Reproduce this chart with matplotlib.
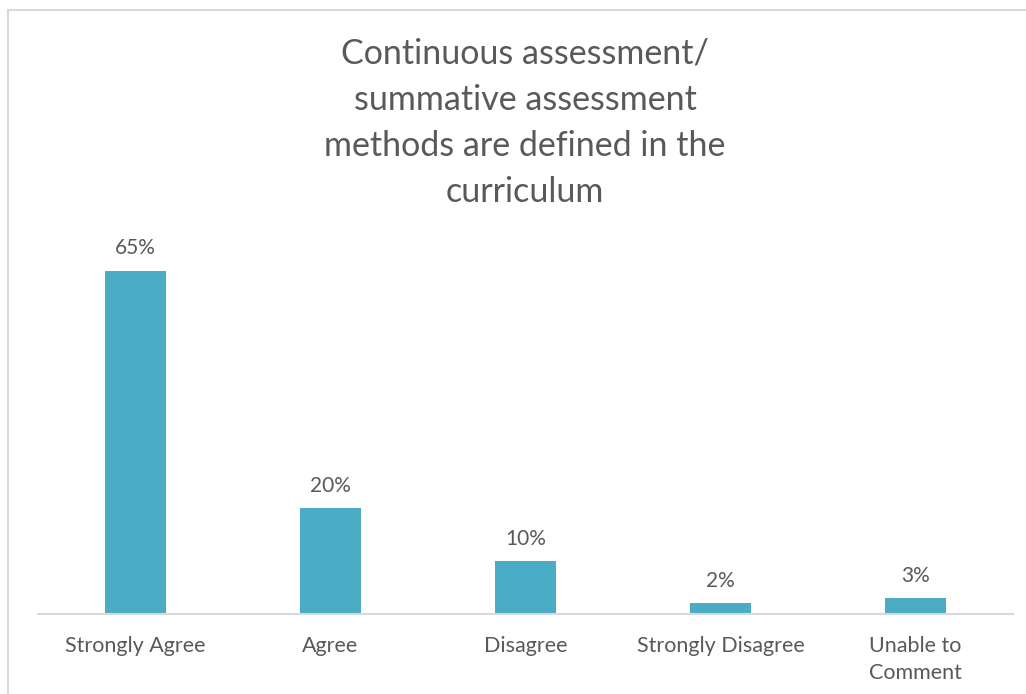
import matplotlib.pyplot as plt
from matplotlib.patches import Rectangle

categories = ['Strongly Agree', 'Agree', 'Disagree', 'Strongly Disagree', 'Unable to\nComment']
values = [65, 20, 10, 2, 3]
labels = ['65%', '20%', '10%', '2%', '3%']

bar_color = '#4BACC6'
text_color = '#595959'
grid_color = '#D9D9D9'

plt.rcParams['font.family'] = ['Lato', 'DejaVu Sans']

fig = plt.figure(figsize=(10.26, 6.94), dpi=100)

# Chart border (runs off the right/bottom edge like the reference)
fig.patches.append(Rectangle((8 / 1026, -0.1), 1.2, 1 - 10 / 694 + 0.1,
                             transform=fig.transFigure, fill=False,
                             edgecolor=grid_color, linewidth=1.5))

ax = fig.add_axes([38 / 1026, 1 - 614 / 694, (1013 - 38) / 1026, (614 - 244.4) / 694])
x = range(len(categories))
bars = ax.bar(x, values, width=0.31, color=bar_color)

for b, lab in zip(bars, labels):
    ax.annotate(lab, (b.get_x() + b.get_width() / 2, b.get_height()),
                xytext=(0, 9), textcoords='offset points',
                ha='center', va='bottom', fontsize=15, color=text_color)

ax.set_xlim(-0.5, 4.5)
ax.set_ylim(0, 70)
ax.set_xticks(list(x))
ax.set_xticklabels(categories, fontsize=15.5, color=text_color, linespacing=1.45)
ax.tick_params(axis='x', length=0, pad=16)
ax.set_yticks([])
for s in ['top', 'right', 'left']:
    ax.spines[s].set_visible(False)
ax.spines['bottom'].set_color(grid_color)
ax.spines['bottom'].set_linewidth(1.5)

fig.text(525 / 1026, 1 - 123 / 694,
         'Continuous assessment/\nsummative assessment\nmethods are defined in the\ncurriculum',
         ha='center', va='center', multialignment='center',
         fontsize=24.5, color=text_color, linespacing=1.55)

fig.savefig('out.png', dpi=100)
